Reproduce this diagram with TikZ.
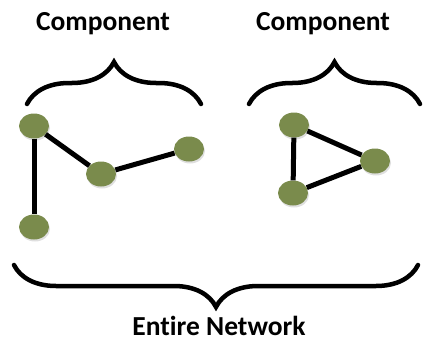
\documentclass[tikz,border=0pt]{standalone}
\usepackage{fontspec}
\setmainfont{Carlito}[Ligatures=NoCommon]
\usetikzlibrary{shapes.geometric,decorations.pathreplacing,shadows}

\definecolor{nodegreen}{RGB}{122,139,76}

\tikzset{
  vertex/.style={ellipse, fill=nodegreen, minimum width=30pt, minimum height=25pt, inner sep=0pt,
    drop shadow={shadow xshift=1pt, shadow yshift=-2pt, opacity=0.25}},
  link/.style={line width=5pt},
  bracket/.style={line width=4.5pt, line cap=round, decorate, decoration={brace, amplitude=#1}},
  caption/.style={font=\bfseries\fontsize{27.5}{32}\selectfont}
}

\begin{document}
\begin{tikzpicture}[x=1pt, y=-1pt]
    \useasboundingbox (0,0) rectangle (425,345);

    % left component
    \node[vertex] (a1) at (34,126) {};
    \node[vertex] (a2) at (101,174) {};
    \node[vertex] (a3) at (189,149) {};
    \node[vertex] (a4) at (34,227) {};

    % right component (triangle)
    \node[vertex] (b1) at (294,125) {};
    \node[vertex] (b2) at (375,161) {};
    \node[vertex] (b3) at (293,193) {};

    \draw[link] (a1) -- (a4);
    \draw[link] (a1) -- (a2);
    \draw[link] (a2) -- (a3);
    \draw[link] (b1) -- (b3);
    \draw[link] (b1) -- (b2);
    \draw[link] (b2) -- (b3);

    % braces
    \coordinate (L1) at (27,104);
    \coordinate (L2) at (201,104);
    \coordinate (R1) at (249,104);
    \coordinate (R2) at (420,104);
    \coordinate (E1) at (14,265);
    \coordinate (E2) at (418,265);
    \draw[bracket=42pt] (L1) -- (L2);
    \draw[bracket=42pt] (R1) -- (R2);
    \draw[bracket=42pt] (E2) -- (E1);

    \node[caption] (c1) at (103,24) {Component};
    \node[caption] (c2) at (323,24) {Component};
    \node[caption] (net) at (219,326) {Entire Network};
\end{tikzpicture}
\end{document}
